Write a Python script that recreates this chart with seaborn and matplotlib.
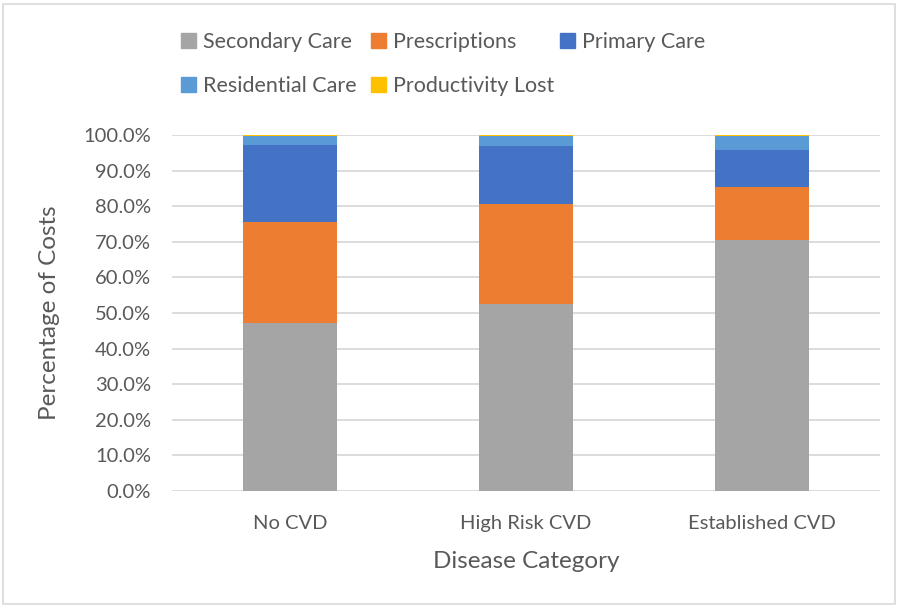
import matplotlib
matplotlib.use("Agg")
import matplotlib.pyplot as plt
import matplotlib.patches as mpatches
from matplotlib.ticker import FuncFormatter
import numpy as np
import pandas as pd
import seaborn as sns

categories = ["No CVD", "High Risk CVD", "Established CVD"]
secondary_care = [47.1, 52.6, 70.4]
prescriptions = [28.4, 28.1, 15.0]
primary_care = [21.7, 16.2, 10.3]
residential_care = [2.5, 2.8, 4.1]
productivity_lost = [0.3, 0.3, 0.2]

series_names = ["Secondary Care", "Prescriptions", "Primary Care",
                "Residential Care", "Productivity Lost"]
series_values = [secondary_care, prescriptions, primary_care,
                 residential_care, productivity_lost]
colors = ["#A5A5A5", "#ED7D31", "#4472C4", "#5B9BD5", "#FFC000"]

sns.set_style("white")
plt.rcParams["font.family"] = ["Lato", "DejaVu Sans"]
text_color = "#595959"

W, H = 899, 607
fig = plt.figure(figsize=(W / 100, H / 100), dpi=100)
ax = fig.add_axes([172 / W, 116 / H, 708 / W, 356 / H])

# stacked bars: draw cumulative totals from the top layer down
values = np.array(series_values) / 100.0
cumulative = np.cumsum(values, axis=0)
for i in range(len(series_names) - 1, -1, -1):
    df = pd.DataFrame({"category": categories, "value": cumulative[i]})
    sns.barplot(data=df, x="category", y="value", color=colors[i],
                saturation=1, width=0.395, ax=ax, zorder=3,
                edgecolor="none", linewidth=0)
for p in ax.patches:
    p.set_clip_on(False)

ax.set_ylim(0, 1.0)
ax.set_xlim(-0.5, 2.5)
ax.set_yticks(np.arange(0, 1.01, 0.1))
ax.yaxis.set_major_formatter(FuncFormatter(lambda v, p: f"{v * 100:.1f}%"))
ax.grid(axis="y", color="#D9D9D9", linewidth=1.3, zorder=0)
ax.set_axisbelow(True)
for s in ax.spines.values():
    s.set_visible(False)
ax.tick_params(axis="both", length=0, labelsize=14.5, colors=text_color)
ax.tick_params(axis="y", pad=15)
ax.tick_params(axis="x", pad=17)
ax.set_xlabel("Disease Category", fontsize=17.5, color=text_color, labelpad=14)
ax.set_ylabel("Percentage of Costs", fontsize=17.5, color=text_color, labelpad=17)

# legend entries on a fixed grid: three per row, equal column widths
legend_slots = [(181, 42), (371, 42), (560, 42), (181, 86), (371, 86)]
for name, color, (lx, ly) in zip(series_names, colors, legend_slots):
    handle = mpatches.Patch(color=color, label=name)
    fig.legend([handle], [name], loc="center left",
               bbox_to_anchor=(lx / W, 1 - ly / H), frameon=False,
               fontsize=15.5, handlelength=0.7, handleheight=0.7,
               handletextpad=0.3, borderpad=0, borderaxespad=0,
               labelcolor=text_color)

# chart area border
fig.patches.append(mpatches.Rectangle((3 / W, 3 / H), 892 / W, 600 / H,
                                      transform=fig.transFigure, fill=False,
                                      edgecolor="#D9D9D9", linewidth=1.2))

fig.savefig("out.png", dpi=100)
